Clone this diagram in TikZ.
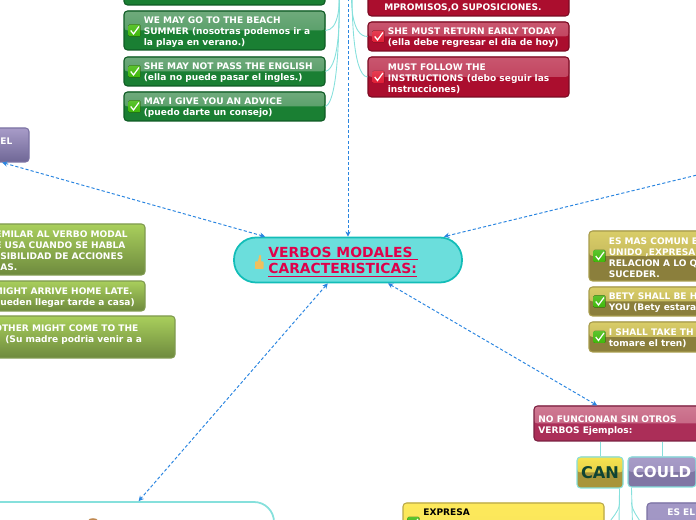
\documentclass[tikz,border=0pt]{standalone}
\usepackage{fontspec}
\setmainfont{DejaVu Sans}
\usetikzlibrary{arrows.meta,positioning}
\definecolor{teal1}{HTML}{6BDEDC}
\definecolor{teal2}{HTML}{13BDB8}
\definecolor{linkcol}{HTML}{86E0DC}
\definecolor{arrowcol}{HTML}{2A85E0}
\definecolor{titlecol}{HTML}{E0004A}
\definecolor{greentop}{HTML}{6FAA7C}
\definecolor{greenlow}{HTML}{1A7F33}
\definecolor{greenedge}{HTML}{0E5A24}
\definecolor{redtop}{HTML}{C9566F}
\definecolor{redlow}{HTML}{AB0E2E}
\definecolor{rededge}{HTML}{7A0A22}
\definecolor{khakitop}{HTML}{D9CD68}
\definecolor{khakilow}{HTML}{8B7F3C}
\definecolor{khakiedge}{HTML}{A89C4C}
\definecolor{olivetop}{HTML}{A9CF5C}
\definecolor{olivelow}{HTML}{6E8A3E}
\definecolor{oliveedge}{HTML}{7F9A4F}
\definecolor{purpletop}{HTML}{A89CC8}
\definecolor{purplelow}{HTML}{6F6796}
\definecolor{purpleedge}{HTML}{7B72A3}
\definecolor{couldlow}{HTML}{8076A4}
\definecolor{crimsontop}{HTML}{CF7A93}
\definecolor{crimsonlow}{HTML}{AB2E58}
\definecolor{crimsonedge}{HTML}{7A2040}
\definecolor{cantop}{HTML}{F7E34F}
\definecolor{canlow}{HTML}{A8953A}
\definecolor{cantext}{HTML}{0F4433}
\definecolor{yellowtop}{HTML}{FDE95C}
\definecolor{yellowlow}{HTML}{F2DE55}
\definecolor{yellowedge}{HTML}{B9A84A}
\definecolor{estop}{HTML}{A398C6}
\definecolor{eslow}{HTML}{9A8FBE}
\definecolor{thumbcol}{HTML}{EFC05E}
\definecolor{tickgreen}{HTML}{3FB80A}
\definecolor{tickred}{HTML}{E01C34}
\definecolor{spotcol}{HTML}{C08850}
\tikzset{
	glossbox/.style n args={3}{draw=#3, fill=#2, rounded corners=2pt, line width=.6pt, inner sep=0pt,
			path picture={\fill[top color=#1, bottom color=#1!55!#2]
					(path picture bounding box.north west) rectangle (path picture bounding box.east);}},
	greenbox/.style={glossbox={greentop}{greenlow}{greenedge}, minimum width=4.02cm},
	redbox/.style={glossbox={redtop}{redlow}{rededge}, minimum width=4.02cm},
	khakibox/.style={glossbox={khakitop}{khakilow}{khakiedge}, minimum width=4.02cm},
	olivebox/.style={draw=oliveedge, top color=olivetop, bottom color=olivelow,
			rounded corners=2pt, line width=.6pt, inner sep=0pt},
	purplebox/.style={draw=purpleedge, top color=purpletop, bottom color=purplelow,
			rounded corners=2pt, line width=.6pt, inner sep=0pt},
	boxtext/.style={inner sep=0pt, text=white, align=left, anchor=west, yshift=-.03cm, font=\bfseries\fontsize{5.15}{6.24}\selectfont},
	linkline/.style={draw=linkcol, line width=.5pt},
	linkarrow/.style={<->, >={Stealth[length=3pt,width=3pt]}, draw=arrowcol, line width=.55pt, dash pattern=on 1.8pt off 1.2pt},
	pics/tickbox/.style={code={
				\fill[rounded corners=.6pt, top color=#1!85!white, bottom color=#1] (-.12,-.12) rectangle (.12,.12);
				\draw[white, line width=.7pt] (-.075,0) -- (-.02,-.07) -- (.09,.08);}},
}
\begin{document}
\begin{tikzpicture}
	\path[use as bounding box, clip] (0,0) rectangle (13.92,10.4);

	% --- Cuadros verdes ---
	\node[greenbox, minimum height=.60cm] (gzero) at (4.49,10.60) {};
	\node[greenbox, minimum height=.78cm] (gone) at (4.49,9.79) {};
	\node[greenbox, minimum height=.58cm] (gtwo) at (4.49,8.97) {};
	\node[greenbox, minimum height=.58cm] (gthree) at (4.49,8.27) {};
	\node[boxtext, right=.4cm of gone.west] (gonetext) {WE MAY GO TO THE BEACH\\SUMMER (nosotras podemos ir a\\la playa en verano.)};
	\node[boxtext, right=.4cm of gtwo.west] (gtwotext) {SHE MAY NOT PASS THE ENGLISH\\(ella no puede pasar el ingles.)};
	\node[boxtext, right=.4cm of gthree.west] (gthreetext) {MAY I GIVE YOU AN ADVICE\\(puedo darte un consejo)};

	% --- Cuadros rojos ---
	\node[redbox, minimum height=.80cm] (rzero) at (9.37,10.48) {};
	\node[redbox, minimum height=.58cm] (rone) at (9.37,9.67) {};
	\node[redbox, minimum height=.80cm] (rtwo) at (9.37,8.86) {};
	\node[boxtext, anchor=west] (rzerotext) at (7.68,10.28) {MPROMISOS,O SUPOSICIONES.};
	\node[boxtext, right=.4cm of rone.west] (ronetext) {SHE MUST RETURN EARLY TODAY\\(ella debe regresar el dia de hoy)};
	\node[boxtext, right=.4cm of rtwo.west] (rtwotext) {MUST FOLLOW THE\\INSTRUCTIONS (debo seguir las\\instrucciones)};

	% --- Cuadros de la izquierda ---
	\node[purplebox, minimum width=3.56cm, minimum height=.68cm] (elbox) at (-1.20,7.50) {};
	\node[boxtext] (eltext) at (0.0,7.61) {EL};
	\node[olivebox, minimum width=4.02cm, minimum height=1.02cm] (oone) at (.89,5.41) {};
	\node[olivebox, minimum width=4.02cm, minimum height=.60cm] (otwo) at (.89,4.48) {};
	\node[olivebox, minimum width=4.62cm, minimum height=.84cm] (othree) at (1.19,3.66) {};
	\node[boxtext] (oonetext) at (-.10,5.41) {EMILAR AL VERBO MODAL\\E USA CUANDO SE HABLA\\\hspace*{.1cm}SIBILIDAD DE ACCIONES\\\hspace*{.1cm}AS.};
	\node[boxtext] (otwotext) at (-.13,4.48) {MIGHT ARRIVE HOME LATE.\\pueden llegar tarde a casa)};
	\node[boxtext] (othreetext) at (-.12,3.74) {OTHER MIGHT COME TO THE\\\hspace*{.22cm}(Su madre podria venir a a};

	% --- Cuadros de la derecha ---
	\node[khakibox, minimum height=1.00cm] (kone) at (13.79,5.28) {};
	\node[khakibox, minimum height=.58cm] (ktwo) at (13.79,4.37) {};
	\node[khakibox, minimum height=.60cm] (kthree) at (13.79,3.66) {};
	\node[boxtext, right=.4cm of kone.west] (konetext) {ES MAS COMUN E\\UNIDO ,EXPRESA\\RELACION A LO Q\\SUCEDER.};
	\node[boxtext, right=.4cm of ktwo.west] (ktwotext) {BETY SHALL BE H\\YOU (Bety estara};
	\node[boxtext, right=.4cm of kthree.west] (kthreetext) {I SHALL TAKE TH\\tomare el tren)};

	% --- Nodo central ---
	\node[draw=teal2, fill=teal1, line width=1pt, rounded corners=.44cm, minimum width=4.56cm, minimum height=.9cm] (central) at (6.96,5.20) {};
	\node[anchor=west, inner sep=0pt, align=left, text=titlecol, font=\bfseries\fontsize{7.9}{9.3}\selectfont] (centraltext) at (5.36,5.16)
	{\underline{VERBOS MODALES\ }\\\underline{CARACTERISTICAS:}};
	\fill[thumbcol, rounded corners=.4pt] (5.10,5.02) rectangle (5.27,5.17);
	\fill[thumbcol] (5.15,5.15) -- (5.19,5.30) -- (5.22,5.29) -- (5.22,5.15) -- cycle;

	% --- Parte inferior ---
	\node[glossbox={crimsontop}{crimsonlow}{crimsonedge}, minimum width=3.76cm, minimum height=.70cm] (crimson) at (12.56,1.93) {};
	\node[boxtext] (crimsontext) at (10.76,1.92) {NO FUNCIONAN SIN OTROS\\VERBOS Ejemplos:};
	\node[glossbox={cantop}{canlow}{linkcol}, minimum width=.92cm, minimum height=.62cm, text=cantext, font=\bfseries\fontsize{9.2}{10}\selectfont] (can) at (12.00,.95) {CAN};
	\node[glossbox={purpletop}{couldlow}{linkcol}, minimum width=1.36cm, minimum height=.60cm, text=white, font=\bfseries\fontsize{8.6}{10}\selectfont] (could) at (13.24,.96) {COULD};
	\node[glossbox={yellowtop}{yellowlow}{yellowedge}, minimum width=4.02cm, minimum height=.80cm] (yellow) at (10.07,-.06) {};
	\node[boxtext, text=black] (yellowtext) at (8.46,.19) {EXPRESA};
	\node[glossbox={estop}{eslow}{purpleedge}, minimum width=4.0cm, minimum height=.80cm] (esbox) at (14.94,-.06) {};
	\node[boxtext] (estext) at (13.34,.19) {ES EL};
	\node[draw=linkcol, fill=white, line width=1pt, rounded corners=.4cm, minimum width=8.84cm, minimum height=3.92cm] (bigbox) at (1.06,-1.60) {};
	\fill[spotcol] (1.86,0) ellipse (.09 and .035);

	% Marcas de cada cuadro
	\foreach \b in {gone,gtwo,gthree,kone,ktwo,kthree,yellow}{
			\pic at ([xshift=.22cm]\b.west) {tickbox=tickgreen};
		}
	\foreach \b in {rone,rtwo}{
			\pic at ([xshift=.22cm]\b.west) {tickbox=tickred};
		}

	% Conexiones celestes
	\coordinate (topa) at (6.78,10.6);
	\coordinate (topb) at (7.04,10.6);
	\coordinate (canend) at (12.38,-.1);
	\coordinate (canleft) at (12.16,-.1);
	\coordinate (couldend) at (12.65,-.1);
	\coordinate (couldright) at (12.84,-.1);
	\draw[linkline] (gone.east) to[out=0,in=-85,looseness=.8] (topa);
	\draw[linkline] (gtwo.east) to[out=15,in=-88,looseness=.5] (topa);
	\draw[linkline] (gthree.east) to[out=25,in=-89,looseness=.35] (topa);
	\draw[linkline] (rone.west) to[out=180,in=-95,looseness=.8] (topb);
	\draw[linkline] (rtwo.west) to[out=175,in=-90,looseness=.45] (topb);
	\draw[linkline] (crimson.south -| can.north) -- (can.north);
	\draw[linkline] (crimson.south -| could.north) -- (could.north);
	\draw[linkline] ([xshift=-.08cm]can.south east) -- (canend);
	\draw[linkline] ([xshift=-.08cm,yshift=-.3cm]can.south east) to[out=-95,in=65] (canleft);
	\draw[linkline] ([xshift=.08cm]could.south west) -- (couldend);
	\draw[linkline] ([xshift=.08cm,yshift=-.3cm]could.south west) to[out=-85,in=115] (couldright);

	% Flechas punteadas
	\coordinate (topend) at (6.96,11.2);
	\coordinate (rightend) at (16.0,7.40);
	\draw[linkarrow] (central) -- (elbox);
	\draw[linkarrow] (central) -- (rightend);
	\draw[linkarrow] (central) -- (topend);
	\draw[linkarrow] (central) -- (bigbox);
	\draw[linkarrow] (central) -- (crimson);
\end{tikzpicture}
\end{document}
